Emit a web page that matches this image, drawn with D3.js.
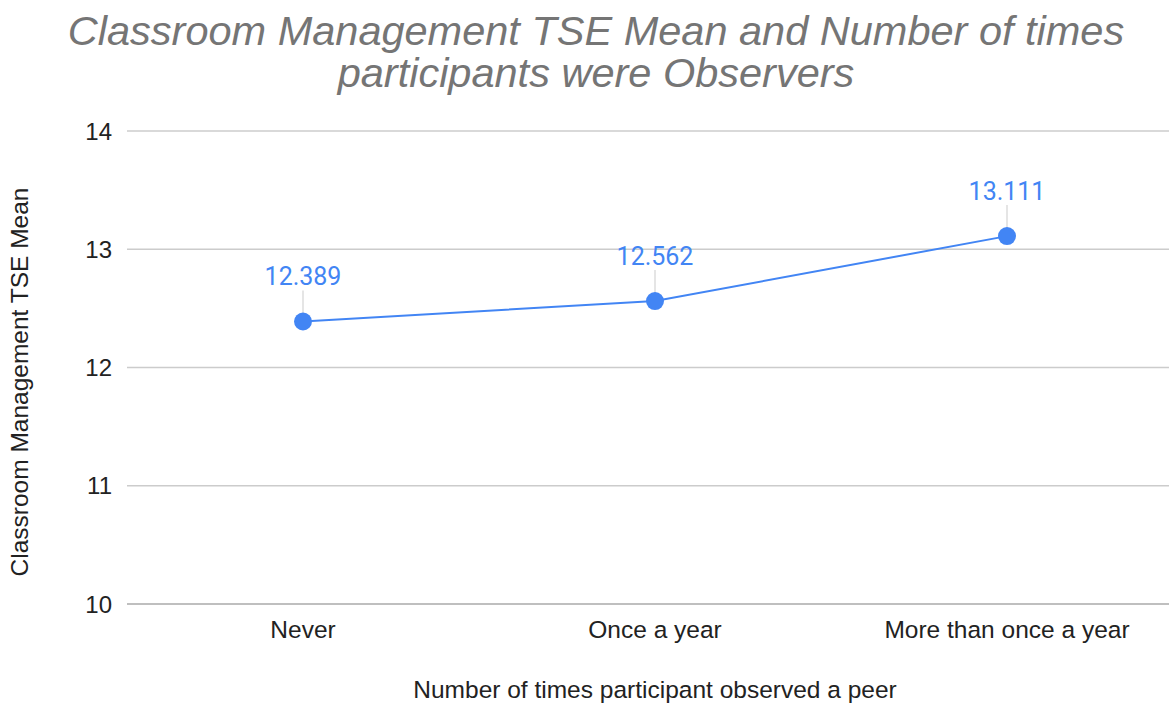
<!DOCTYPE html>
<html>
<head>
<meta charset="utf-8">
<script src="https://cdn.jsdelivr.net/npm/d3@7"></script>
<style>
  body { margin: 0; background: #fff; }
  svg { display: block; }
</style>
</head>
<body>
<div id="chart"></div>
<script>
const categories = ["Never", "Once a year", "More than once a year"];
const means = [12.389, 12.562, 13.111];
const yTicks = [10, 11, 12, 13, 14];

const W = 1169, H = 704;
const plot = { left: 127, right: 1183, top: 131, bottom: 604 };
const axisFont = "'Liberation Sans', Arial, sans-serif";

const svg = d3.select("#chart").append("svg")
    .attr("width", W)
    .attr("height", H);

const x = d3.scalePoint()
    .domain(categories)
    .range([plot.left, plot.right])
    .padding(0.5);

const y = d3.scaleLinear()
    .domain([10, 14])
    .range([plot.bottom, plot.top]);

// gridlines
svg.append("g")
    .selectAll("line")
    .data(yTicks)
    .enter().append("line")
    .attr("x1", plot.left)
    .attr("x2", plot.right)
    .attr("y1", d => y(d))
    .attr("y2", d => y(d))
    .attr("stroke", d => d === 10 ? "#aaaaaa" : "#cccccc")
    .attr("stroke-width", 1.3);

// y tick labels
svg.append("g")
    .selectAll("text")
    .data(yTicks)
    .enter().append("text")
    .attr("x", 112)
    .attr("y", d => y(d) + 8.5)
    .attr("text-anchor", "end")
    .style("font-family", axisFont)
    .style("font-size", "24px")
    .attr("fill", "#222")
    .text(d => d);

// x labels
svg.append("g")
    .selectAll("text")
    .data(categories)
    .enter().append("text")
    .attr("x", d => x(d))
    .attr("y", 638)
    .attr("text-anchor", "middle")
    .style("font-family", axisFont)
    .style("font-size", "24.5px")
    .attr("fill", "#222")
    .text(d => d);

// axis titles
svg.append("text")
    .attr("x", 655)
    .attr("y", 698)
    .attr("text-anchor", "middle")
    .style("font-family", axisFont)
    .style("font-size", "24.5px")
    .attr("fill", "#222")
    .text("Number of times participant observed a peer");

svg.append("text")
    .attr("transform", "translate(28,382) rotate(-90)")
    .attr("text-anchor", "middle")
    .style("font-family", axisFont)
    .style("font-size", "24.5px")
    .attr("fill", "#222")
    .text("Classroom Management TSE Mean");

// title
const title = svg.append("text")
    .attr("text-anchor", "middle")
    .style("font-family", axisFont)
    .style("font-size", "41.5px")
    .style("font-style", "italic")
    .attr("fill", "#757575");
title.append("tspan").attr("x", 596).attr("y", 45)
    .text("Classroom Management TSE Mean and Number of times");
title.append("tspan").attr("x", 596).attr("y", 87)
    .text("participants were Observers");

const pts = categories.map((c, i) => ({ c, v: means[i] }));

// leader lines
svg.append("g")
    .selectAll("line")
    .data(pts)
    .enter().append("line")
    .attr("x1", d => x(d.c))
    .attr("x2", d => x(d.c))
    .attr("y1", d => y(d.v) - 31)
    .attr("y2", d => y(d.v) - 6)
    .attr("stroke", "#dddddd")
    .attr("stroke-width", 1.5);

// series line
svg.append("path")
    .datum(pts)
    .attr("fill", "none")
    .attr("stroke", "#4285f4")
    .attr("stroke-width", 2)
    .attr("d", d3.line().x(d => x(d.c)).y(d => y(d.v)));

svg.append("g")
    .selectAll("circle")
    .data(pts)
    .enter().append("circle")
    .attr("cx", d => x(d.c))
    .attr("cy", d => y(d.v))
    .attr("r", 9)
    .attr("fill", "#4285f4");

// data labels
svg.append("g")
    .selectAll("text")
    .data(pts)
    .enter().append("text")
    .attr("x", d => x(d.c))
    .attr("y", d => y(d.v) - 36.5)
    .attr("text-anchor", "middle")
    .style("font-family", "Roboto, sans-serif")
    .style("font-size", "25px")
    .attr("fill", "#4285f4")
    .text(d => d3.format(".3f")(d.v));
</script>
</body>
</html>
